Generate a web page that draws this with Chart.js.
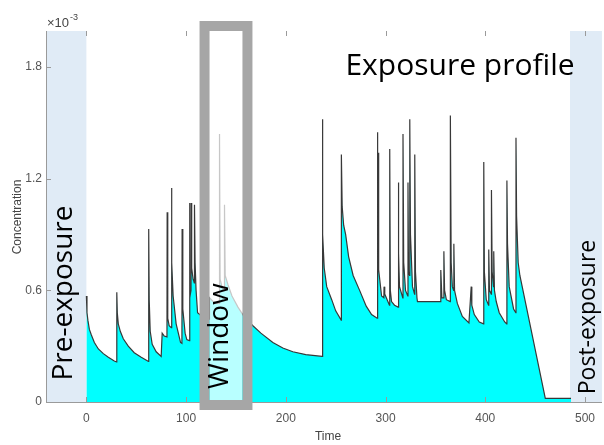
<!DOCTYPE html>
<html>
<head>
<meta charset="utf-8">
<script src="https://cdn.jsdelivr.net/npm/chart.js@4.4.0/dist/chart.umd.min.js"></script>
<style>
  html, body { margin: 0; padding: 0; background: #fff; }
  canvas { display: block; }
</style>
</head>
<body>
<canvas id="chart" width="604" height="445"></canvas>
<script>
// concentration is in units of 1e-3 (axis shows the x10^-3 multiplier)
const timeValues = [
  0, 0.6, 1.5, 3, 5, 8, 12, 17, 22, 28, 30.3,
  30.5, 31, 32, 34, 37, 42, 48, 55, 61.5, 62.3,
  62.5, 63, 64, 66, 70, 75, 76, 78, 80.8,
  81, 81.6, 83, 85.1,
  85.3, 85.8, 87, 90, 94.4, 95.8,
  96, 96.7, 99, 100.7, 103.2,
  103.4, 103.9, 104.9,
  105.1, 105.6, 107, 108.2,
  108.4, 109, 110, 111.5, 116, 121, 123.3,
  123.5, 127, 131, 133.3,
  133.5, 134.1, 136, 138.3,
  138.5, 139.2, 142, 146, 152, 158, 167, 175, 187, 197, 207, 220, 236.4,
  236.6, 237.2, 238.5, 241, 246, 250, 255.5,
  255.7, 256.5, 258, 260, 263, 267.5, 274, 280.6, 286, 291.6,
  291.8, 292.3, 292.6,
  292.8, 293.4, 296, 298.3,
  298.5, 299.2, 303.9,
  304.2, 304.8, 306, 309, 312.6,
  312.8, 313.3, 314, 317.3,
  317.5, 318.2, 320, 322.3,
  322.5, 323, 324.1,
  324.3, 325, 327, 329.1,
  329.3, 330, 331.5, 332, 355,
  355.4, 356.5, 358.3,
  358.5, 359.2, 361, 364.8,
  365, 365.8, 367, 368.3,
  368.5, 369.2, 372, 377, 383.6,
  385.9, 386.5, 389, 394, 398.3,
  398.5, 399.1, 401, 403.3,
  403.5, 404.2, 406,
  406.2, 406.9, 408.3,
  408.5, 409.2, 411, 414, 419.5, 421.5,
  421.7, 422.3, 424, 428.4, 430.6,
  430.8, 431.4, 433, 434.7, 460.2, 486
];
const concValues = [
  0.57, 0.48, 0.44, 0.39, 0.36, 0.32, 0.285, 0.26, 0.24, 0.22, 0.215,
  0.59, 0.48, 0.42, 0.38, 0.34, 0.30, 0.265, 0.24, 0.22, 0.218,
  0.93, 0.55, 0.38, 0.31, 0.27, 0.245, 0.37, 0.355, 0.35,
  1.02, 0.45, 0.41, 0.40,
  1.15, 0.75, 0.57, 0.42, 0.32, 0.315,
  0.93, 0.50, 0.37, 0.335, 0.33,
  1.07, 0.56, 0.60,
  1.07, 0.72, 0.66, 0.64,
  1.06, 0.75, 0.60, 0.48, 0.46, 0.45, 0.445,
  0.56, 0.54, 0.53, 0.53,
  1.44, 0.66, 0.62, 0.60,
  1.06, 0.68, 0.63, 0.57, 0.51, 0.46, 0.41, 0.37, 0.32, 0.29, 0.27, 0.255, 0.245,
  1.52, 0.90, 0.72, 0.62, 0.55, 0.49, 0.44,
  1.33, 1.05, 0.95, 0.90, 0.78, 0.68, 0.60, 0.515, 0.47, 0.45,
  1.45, 1.00, 0.95,
  1.34, 0.71, 0.57, 0.56,
  0.62, 0.58, 0.52,
  1.36, 0.60, 0.54, 0.52, 0.51,
  1.18, 0.80, 0.62, 0.56,
  1.44, 0.75, 0.60, 0.57,
  1.18, 0.70, 0.68,
  1.52, 0.90, 0.62, 0.58,
  1.33, 0.70, 0.56, 0.54, 0.54,
  0.71, 0.56, 0.56,
  0.81, 0.60, 0.55, 0.54,
  1.54, 0.75, 0.62, 0.60,
  0.85, 0.60, 0.53, 0.46, 0.425,
  0.62, 0.52, 0.47, 0.43, 0.42,
  1.29, 0.70, 0.55, 0.52,
  0.82, 0.60, 0.58,
  1.14, 0.70, 0.62,
  0.81, 0.60, 0.54, 0.48, 0.43, 0.42,
  1.19, 0.85, 0.62, 0.50, 0.48,
  1.42, 1.00, 0.75, 0.68, 0.02, 0.02
];

const xTicks = [0, 100, 200, 300, 400, 500];
const yTicks = [0, 0.6, 1.2, 1.8];
const xRange = [-40.5, 517];
const yRange = [0, 1.994];

const preExposure = [-40.5, 0];
const postExposure = [485, 517];
const windowSpan = [123.5, 156.5];

const points = timeValues.map((t, i) => ({ x: t, y: concValues[i] }));

const overlayPlugin = {
    id: 'exposureOverlay',
    beforeDraw(chart) {
        const { ctx, chartArea: a, scales: { x } } = chart;
        ctx.save();
        ctx.fillStyle = '#e0ebf6';
        const p0 = x.getPixelForValue(preExposure[0]);
        const p1 = x.getPixelForValue(preExposure[1]);
        ctx.fillRect(p0, a.top, p1 - p0, a.bottom - a.top);
        const q0 = x.getPixelForValue(postExposure[0]);
        const q1 = x.getPixelForValue(postExposure[1]);
        ctx.fillRect(q0, a.top, q1 - q0, a.bottom - a.top);
        ctx.restore();
    },
    afterDatasetsDraw(chart) {
        const { ctx, chartArea: a, scales: { x, y } } = chart;
        ctx.save();
        // inward tick marks (matlab style)
        ctx.strokeStyle = '#9a9a9a';
        ctx.lineWidth = 1;
        ctx.beginPath();
        xTicks.forEach(v => {
            const px = Math.round(x.getPixelForValue(v)) + 0.5;
            ctx.moveTo(px, a.bottom); ctx.lineTo(px, a.bottom - 5);
            ctx.moveTo(px, a.top); ctx.lineTo(px, a.top + 5);
        });
        yTicks.forEach(v => {
            const py = Math.round(y.getPixelForValue(v)) + 0.5;
            ctx.moveTo(a.left, py); ctx.lineTo(a.left + 5, py);
        });
        ctx.stroke();

        // window highlight
        const wl = x.getPixelForValue(windowSpan[0]);
        const wr = x.getPixelForValue(windowSpan[1]);
        const wt = a.top;
        const wb = a.bottom - 2;
        ctx.fillStyle = 'rgba(255,255,255,0.72)';
        ctx.fillRect(wl, wt, wr - wl, wb - wt);
        ctx.strokeStyle = '#a6a6a6';
        ctx.lineWidth = 10;
        ctx.strokeRect(wl - 5, wt - 5, wr - wl + 10, wb - wt + 10);
        ctx.restore();
    },
    afterDraw(chart) {
        const { ctx } = chart;
        ctx.save();
        ctx.fillStyle = '#000';
        ctx.textAlign = 'center';
        ctx.textBaseline = 'middle';

        ctx.font = '30px "Open Sans"';
        ctx.fillText('Exposure profile', 460, 66);

        const vertical = (text, cx, cy, size) => {
            ctx.save();
            ctx.translate(cx, cy);
            ctx.rotate(-Math.PI / 2);
            ctx.font = size + 'px "Open Sans"';
            ctx.fillText(text, 0, 0);
            ctx.restore();
        };
        vertical('Pre-exposure', 64, 293, 28);
        vertical('Window', 220, 336, 28);
        vertical('Post-exposure', 588, 317, 23);

        // axis titles + exponent
        ctx.fillStyle = '#444';
        ctx.font = '12px "Liberation Sans"';
        ctx.fillText('Time', 328, 437);
        ctx.save();
        ctx.translate(18, 217);
        ctx.rotate(-Math.PI / 2);
        ctx.fillText('Concentration', 0, 0);
        ctx.restore();

        ctx.textAlign = 'left';
        ctx.textBaseline = 'alphabetic';
        ctx.font = '13px "Liberation Sans"';
        ctx.fillText('\u00d710', 47, 27);
        ctx.font = '9px "Liberation Sans"';
        ctx.fillText('-3', 70, 20);
        ctx.restore();
    }
};

new Chart(document.getElementById('chart'), {
    type: 'line',
    data: {
        datasets: [{
            data: points,
            fill: 'origin',
            backgroundColor: '#00ffff',
            borderColor: '#383838',
            borderWidth: 1.2,
            pointRadius: 0,
            tension: 0
        }]
    },
    options: {
        responsive: false,
        animation: false,
        devicePixelRatio: 1,
        layout: { padding: { top: 31, right: 0, left: 0, bottom: 0 } },
        plugins: { legend: { display: false }, tooltip: { enabled: false } },
        scales: {
            x: {
                type: 'linear',
                min: xRange[0],
                max: xRange[1],
                afterBuildTicks: s => { s.ticks = xTicks.map(v => ({ value: v })); },
                afterFit: s => { s.height = 43; },
                grid: { display: false, drawTicks: false },
                border: { display: true, color: '#9a9a9a' },
                ticks: {
                    padding: 9,
                    color: '#555',
                    font: { family: 'Liberation Sans', size: 12 },
                    maxRotation: 0
                }
            },
            y: {
                type: 'linear',
                min: yRange[0],
                max: yRange[1],
                afterBuildTicks: s => { s.ticks = yTicks.map(v => ({ value: v })); },
                afterFit: s => { s.width = 46; },
                grid: { display: false, drawTicks: false },
                border: { display: true, color: '#9a9a9a' },
                ticks: {
                    padding: 4,
                    color: '#555',
                    font: { family: 'Liberation Sans', size: 12 },
                    callback: v => String(v)
                }
            }
        }
    },
    plugins: [overlayPlugin]
});
</script>
</body>
</html>
